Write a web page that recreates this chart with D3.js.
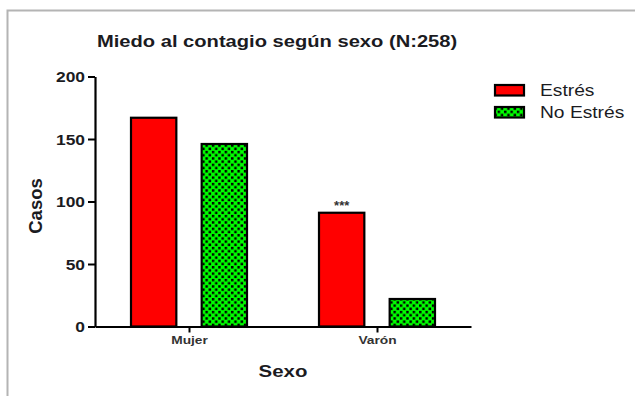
<!DOCTYPE html>
<html>
<head>
<meta charset="utf-8">
<script src="https://cdn.jsdelivr.net/npm/d3@7"></script>
<style>
  html, body { margin: 0; padding: 0; background: #fff; }
  svg { display: block; font-family: "Liberation Sans", Arial, sans-serif; }
</style>
</head>
<body>
<svg id="chart" width="635" height="396"></svg>
<script>
// Data: fear of contagion by sex, split by stress status
const categories = ["Mujer", "Varón"];
const series = ["Estrés", "No Estrés"];
const estres = [167, 91];
const noEstres = [146, 22];
const yTicks = [0, 50, 100, 150, 200];
const significance = ["", "***"];

const title = "Miedo al contagio según sexo (N:258)";
const xTitle = "Sexo";
const yTitle = "Casos";

const svg = d3.select("#chart");
const ink = "#1b1b1f";

// widen a text element horizontally, keeping its anchor
function widen(sel, k = 1.25) {
  sel.each(function () {
    const len = this.getComputedTextLength();
    d3.select(this).attr("textLength", len * k).attr("lengthAdjust", "spacingAndGlyphs");
  });
}

// chequered fill for the "No Estrés" series
const defs = svg.append("defs");
const pat = defs.append("pattern")
  .attr("id", "checker").attr("patternUnits", "userSpaceOnUse")
  .attr("width", 6.4).attr("height", 6.4);
pat.append("rect").attr("width", 6.4).attr("height", 6.4).attr("fill", "#00ff00");
pat.append("rect").attr("x", 0.4).attr("y", 0.4).attr("width", 2.5).attr("height", 2.5).attr("fill", "#000");
pat.append("rect").attr("x", 3.6).attr("y", 3.6).attr("width", 2.5).attr("height", 2.5).attr("fill", "#000");

const fills = ["#ff0000", "url(#checker)"];

// outer frame (top and left edges)
svg.append("path")
  .attr("d", "M7.5,396 V10.5 H635")
  .attr("fill", "none").attr("stroke", "#b4b4b4").attr("stroke-width", 2);

// scales
const y = d3.scaleLinear().domain([0, 200]).range([326.5, 76.5]);
const x = d3.scalePoint().domain(categories).range([95, 471]).padding(0.5);
const groupWidth = 118;
const xs = d3.scaleBand().domain(series).range([-groupWidth / 2, groupWidth / 2]).paddingInner(0.33);

const rows = categories.map((c, i) => ({ cat: c, values: [estres[i], noEstres[i]], sig: significance[i] }));

// bars
const groups = svg.append("g").selectAll("g").data(rows).join("g")
  .attr("transform", d => `translate(${x(d.cat)},0)`);

groups.selectAll("rect").data(d => d.values.map((v, j) => ({ s: series[j], v, j }))).join("rect")
  .attr("x", d => xs(d.s) + 1)
  .attr("width", xs.bandwidth() - 2)
  .attr("y", d => y(d.v))
  .attr("height", d => y(0) - y(d.v))
  .attr("fill", d => fills[d.j])
  .attr("stroke", "#000").attr("stroke-width", 2.2);

// significance marks
groups.append("text")
  .attr("x", xs(series[0]) + xs.bandwidth() / 2)
  .attr("y", d => y(d.values[0]) - 3)
  .attr("text-anchor", "middle")
  .attr("font-size", 13).attr("font-weight", "bold").attr("fill", "#333")
  .text(d => d.sig);

// y axis
const yAxis = svg.append("g").attr("transform", "translate(95,0)")
  .call(d3.axisLeft(y).tickValues(yTicks).tickSize(7).tickPadding(3).tickSizeOuter(0));
yAxis.select(".domain").attr("stroke", "#000").attr("stroke-width", 2.2);
yAxis.selectAll(".tick line").attr("stroke", "#000").attr("stroke-width", 2);
yAxis.selectAll(".tick text")
  .attr("font-size", 14.5).attr("font-weight", "bold").attr("fill", ink)
  .attr("font-family", "Liberation Sans, Arial, sans-serif")
  .attr("dy", "0.36em")
  .call(widen, 1.2);

// x axis
const xAxis = svg.append("g").attr("transform", `translate(0,${y(0)})`)
  .call(d3.axisBottom(x).tickSize(6).tickPadding(4).tickSizeOuter(0));
xAxis.select(".domain").attr("stroke", "#000").attr("stroke-width", 2.2);
xAxis.selectAll(".tick text")
  .attr("font-size", 11).attr("font-weight", "bold").attr("fill", "#333")
  .attr("font-family", "Liberation Sans, Arial, sans-serif")
  .call(widen, 1.25);
xAxis.selectAll(".tick line").attr("stroke", "#000").attr("stroke-width", 2);

// titles
svg.append("text")
  .attr("x", 97).attr("y", 47)
  .attr("font-size", 16.5).attr("font-weight", "bold").attr("fill", ink)
  .text(title).call(widen, 1.22);

svg.append("text")
  .attr("x", 283).attr("y", 377)
  .attr("text-anchor", "middle")
  .attr("font-size", 17).attr("font-weight", "bold").attr("fill", ink)
  .text(xTitle).call(widen, 1.2);

svg.append("text")
  .attr("transform", "translate(42,206) rotate(-90)")
  .attr("text-anchor", "middle")
  .attr("font-size", 18.5).attr("font-weight", "bold").attr("fill", ink)
  .text(yTitle);

// legend
const legend = svg.append("g").selectAll("g").data(series).join("g")
  .attr("transform", (d, i) => `translate(494,${85 + i * 22})`);
legend.append("rect")
  .attr("x", 1).attr("y", 0).attr("width", 29).attr("height", 10.5)
  .attr("fill", (d, i) => fills[i]).attr("stroke", "#000").attr("stroke-width", 2.2);
legend.append("text")
  .attr("x", 46).attr("y", 5.5).attr("dy", "0.36em")
  .attr("font-size", 16).attr("fill", ink)
  .text(d => d).call(widen, 1.2);
</script>
</body>
</html>
